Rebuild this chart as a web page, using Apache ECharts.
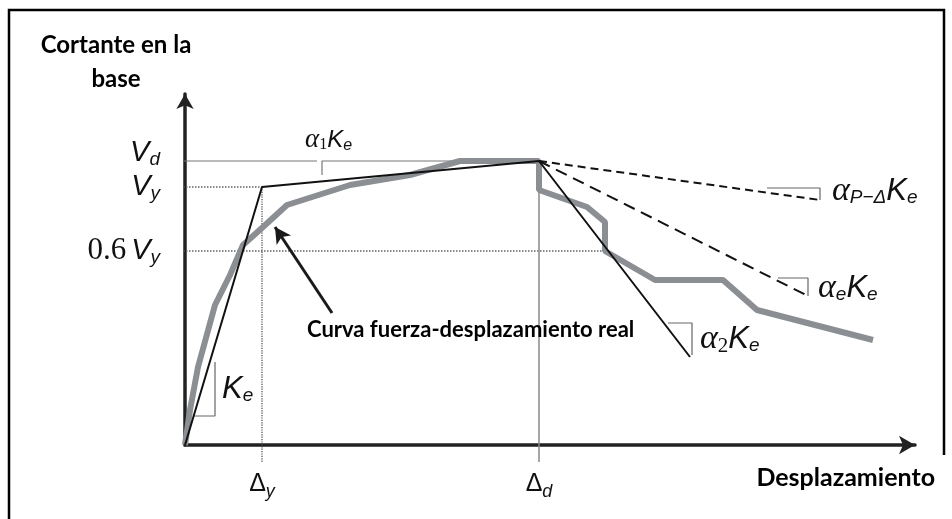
<!DOCTYPE html>
<html>
<head>
<meta charset="utf-8">
<script src="https://cdn.jsdelivr.net/npm/echarts@6/dist/echarts.min.js"></script>
<style>
html, body { margin: 0; padding: 0; background: #fff; }
#chart { width: 952px; height: 519px; }
</style>
</head>
<body>
<div id="chart"></div>
<script>
// curva fuerza-desplazamiento real (gris)
const realCurve = [[0, 0], [5, 35], [13, 78], [30, 140], [45, 170], [58, 200], [78, 218], [102, 240],
  [165, 260], [225, 270], [275, 284], [354, 284], [354, 255], [402, 238], [420, 223], [420, 194],
  [470, 165], [538, 165], [572, 135], [688, 105]];
// idealizacion bilineal + rama de degradacion
const bilinear = [[0, 0], [77, 258], [354, 284], [505, 88]];
const pDeltaBranch = [[354, 284], [635, 245]];
const alphaEBranch = [[354, 284], [623, 149]];
// triangulos de pendiente
const slopeKe = [[9, 29], [30, 29], [30, 83]];
const slopeA2 = [[483, 122], [507, 122], [507, 90]];
const slopeAe = [[593, 167], [623, 167], [623, 149]];
const slopePD = [[582, 257], [635, 257], [635, 245]];
const bracketA1 = [[137, 270], [137, 284], [354, 284]];
// lineas de referencia
const lineVd = [[-20, 284], [132, 284]];
const lineVy = [[-20, 258], [77, 258]];
const line06Vy = [[-20, 194], [422, 194]];
const lineDy = [[77, 258], [77, -17]];
const lineDd = [[354, 284], [354, -17]];
// flecha hacia la curva real
const arrowFrom = [147, 132];
const arrowTo = [90, 218];
// marcas de los ejes
const yTicks = [194, 258, 284];
const yTickLabels = ['{n|0.6}{v|V}{s|y}', '{v|V}{s|y}', '{vu|V}{su|d}'];
const xTicks = [77, 354];
const xTickLabels = ['{d|Δ}{ds|y}', '{d|Δ}{ds|d}'];
// textos
const annoPos = [[120, 305], [647, 254], [633, 157], [515, 106], [37, 56], [122, 115]];
const annoText = [
  '{a1|α}{n1|1}{k1|K}{s1|e}',
  '{a|α}{s|P−Δ}{k|K}{s|e}',
  '{a|α}{s|e}{k|K}{s|e}',
  '{a|α}{n2|2}{k|K}{s|e}',
  '{k|K}{s|e}',
  '{t|Curva fuerza-desplazamiento real}'
];

const ink = '#111';
const sans = 'Liberation Sans';
const serif = 'Liberation Serif';
const rich = {
  v: { fontFamily: sans, fontStyle: 'italic', fontSize: 29, color: ink },
  vu: { fontFamily: sans, fontStyle: 'italic', fontSize: 29, color: ink, padding: [0, 0, 16, 0] },
  s: { fontFamily: sans, fontStyle: 'italic', fontSize: 19, color: ink, padding: [14, 0, 0, 0] },
  su: { fontFamily: sans, fontStyle: 'italic', fontSize: 19, color: ink, padding: [14, 0, 16, 0] },
  n: { fontFamily: serif, fontSize: 31, color: ink, padding: [0, 5, 0, 0] },
  d: { fontFamily: sans, fontSize: 25, color: ink },
  ds: { fontFamily: sans, fontStyle: 'italic', fontSize: 18, color: ink, padding: [16, 0, 0, 0] },
  a: { fontFamily: serif, fontStyle: 'italic', fontSize: 34, color: ink },
  k: { fontFamily: sans, fontStyle: 'italic', fontSize: 31, color: ink },
  n2: { fontFamily: serif, fontSize: 21, color: ink, padding: [14, 0, 0, 0] },
  a1: { fontFamily: serif, fontStyle: 'italic', fontSize: 27, color: ink },
  k1: { fontFamily: sans, fontStyle: 'italic', fontSize: 24, color: ink },
  n1: { fontFamily: serif, fontSize: 16, color: ink, padding: [10, 0, 0, 0] },
  s1: { fontFamily: sans, fontStyle: 'italic', fontSize: 16, color: ink, padding: [12, 0, 0, 0] },
  t: { fontFamily: 'Lato', fontWeight: 'bold', fontSize: 22, color: '#000' },
  gap: { fontSize: 10, lineHeight: 66 },
  b: { fontFamily: 'Lato', fontWeight: 'bold', fontSize: 25, lineHeight: 28, color: '#000' },
  h: { fontFamily: 'Lato', fontWeight: 'bold', fontSize: 24, lineHeight: 34, color: '#000' }
};

function lineSeries(data, color, width, type) {
  return {
    type: 'line', data: data, clip: false, symbol: 'none', silent: true, z: 2,
    lineStyle: { color: color, width: width, type: type || 'solid' }
  };
}

const chart = echarts.init(document.getElementById('chart'));
chart.setOption({
  animation: false,
  backgroundColor: '#fff',
  grid: { left: 185, right: 37, top: 94, bottom: 74 },
  graphic: [{
    type: 'polyline', silent: true,
    shape: { points: [[9, 519], [9, 10], [944, 10], [944, 455]] },
    style: { stroke: '#000', lineWidth: 2.5, fill: null }
  }],
  xAxis: {
    type: 'value', min: 0, max: 730,
    name: '{gap| }\n{b|Desplazamiento}', nameLocation: 'end', nameGap: 20,
    nameTextStyle: { align: 'right', verticalAlign: 'middle', rich: rich },
    axisLine: { lineStyle: { color: '#222', width: 3.5 }, symbol: ['none', 'arrow'], symbolSize: [14, 16] },
    axisTick: { show: false },
    splitLine: { show: false },
    axisLabel: {
      customValues: xTicks, margin: 22, rich: rich,
      formatter: (v) => xTickLabels[xTicks.indexOf(v)]
    }
  },
  yAxis: {
    type: 'value', min: 0, max: 351,
    name: '{h|Cortante en la}\n{h|base}', nameLocation: 'end', nameGap: -2,
    nameTextStyle: { align: 'center', padding: [0, 138, 0, 0], rich: rich },
    axisLine: { lineStyle: { color: '#222', width: 3.5 }, symbol: ['none', 'arrow'], symbolSize: [13, 15] },
    axisTick: { show: false },
    splitLine: { show: false },
    axisLabel: {
      customValues: yTicks, margin: 25, rich: rich,
      formatter: (v) => yTickLabels[yTicks.indexOf(v)]
    }
  },
  series: [
    lineSeries(lineVd, '#777', 1.2),
    lineSeries(bracketA1, '#777', 1.2),
    lineSeries(lineVy, '#666', 1.5, 'dotted'),
    lineSeries(line06Vy, '#666', 1.5, 'dotted'),
    lineSeries(lineDy, '#444', 1.2, 'dotted'),
    lineSeries(lineDd, '#888', 1.5),
    lineSeries(slopeKe, '#666', 1.2),
    lineSeries(slopeA2, '#666', 1.2),
    lineSeries(slopeAe, '#666', 1.2),
    lineSeries(slopePD, '#666', 1.2),
    Object.assign(lineSeries(realCurve, '#8b8f93', 6), { z: 3 }),
    Object.assign(lineSeries(bilinear, ink, 2), {
      z: 4,
      markLine: {
        silent: true, symbol: ['none', 'arrow'], symbolSize: [13, 16],
        label: { show: false },
        lineStyle: { color: '#1a1a1a', width: 3, type: 'solid' },
        data: [[{ coord: arrowFrom }, { coord: arrowTo }]]
      }
    }),
    Object.assign(lineSeries(pDeltaBranch, ink, 2, [8, 5]), { z: 4 }),
    Object.assign(lineSeries(alphaEBranch, ink, 2, [12, 7]), { z: 4 }),
    {
      type: 'scatter', symbolSize: 0, silent: true, clip: false, z: 5,
      itemStyle: { opacity: 1 },
      data: annoPos.map((p, i) => ({ value: p, label: { formatter: annoText[i] } })),
      label: { show: true, position: 'right', distance: 0, color: ink, opacity: 1, rich: rich }
    }
  ]
});
</script>
</body>
</html>
